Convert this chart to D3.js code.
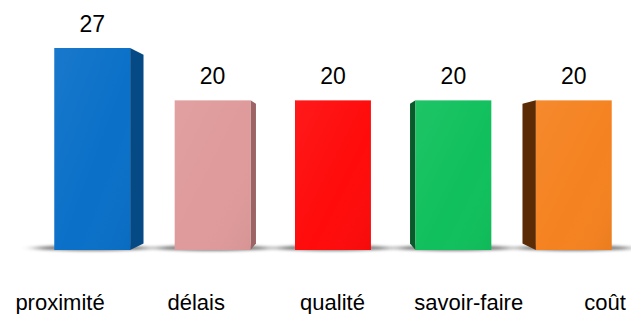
<!DOCTYPE html>
<html>
<head>
<meta charset="utf-8">
<script src="https://cdn.jsdelivr.net/npm/d3@7"></script>
<style>
  body { margin: 0; background: #fff; }
  text { font-family: "Liberation Sans", Arial, sans-serif; fill: #000; }
</style>
</head>
<body>
<div id="chart"></div>
<script>
// Barres 3D

const WIDTH = 631
const HEIGHT = 314

const categories = ["proximité", "délais", "qualité", "savoir-faire", "coût"]
const values = [27, 20, 20, 20, 20]
const frontColors = ["#0a70c8", "#df9a9b", "#ff0b0b", "#10c05c", "#f58220"]
const sideColors = ["#054a85", "#9c6465", "#b00000", "#095a2b", "#5a2b05"]

const data = categories.map((c, i) => ({ cat: c, value: values[i], front: frontColors[i], side: sideColors[i] }))

const svg = d3.select("#chart")
  .append("svg")
  .attr("width", WIDTH)
  .attr("height", HEIGHT)

const x = d3.scaleBand()
  .domain(categories)
  .range([32, 634])
  .paddingInner(0.37)
  .paddingOuter(0.185)

const y = d3.scaleLinear()
  .domain([0, 27])
  .range([250, 48])

// labels sit on a plane closer to the eye, so they spread out more
const xLabel = d3.scalePoint()
  .domain(categories)
  .range([60, 605])

const VP = { x: 333, y: 150 }
const DEPTH = 0.066

const defs = svg.append("defs")

const shine = defs.append("linearGradient")
  .attr("id", "shine")
  .attr("x1", 0).attr("y1", 0).attr("x2", 1).attr("y2", 1)
shine.append("stop").attr("offset", "0%").attr("stop-color", "#fff").attr("stop-opacity", 0.06)
shine.append("stop").attr("offset", "60%").attr("stop-color", "#fff").attr("stop-opacity", 0)
shine.append("stop").attr("offset", "100%").attr("stop-color", "#000").attr("stop-opacity", 0.04)

defs.append("filter")
  .attr("id", "blur")
  .attr("x", "-50%").attr("y", "-200%").attr("width", "200%").attr("height", "500%")
  .append("feGaussianBlur")
  .attr("stdDeviation", "7 1.5")

const toVP = (px, py) => [px + DEPTH * (VP.x - px), py + DEPTH * (VP.y - py)]

const bars = svg.selectAll("g.bar")
  .data(data)
  .join("g")
  .attr("class", "bar")

// ombre au sol
bars.append("ellipse")
  .attr("cx", d => x(d.cat) + x.bandwidth() / 2)
  .attr("cy", y(0) - 2)
  .attr("rx", x.bandwidth() / 2 + 20)
  .attr("ry", 3)
  .attr("fill", "#555")
  .attr("opacity", 0.75)
  .attr("filter", "url(#blur)")

// face latérale
bars.append("path")
  .attr("fill", d => d.side)
  .attr("d", d => {
    const cx = x(d.cat) + x.bandwidth() / 2
    const edge = cx < VP.x ? x(d.cat) + x.bandwidth() : x(d.cat)
    const top = y(d.value)
    const bot = y(0)
    const a = toVP(edge, top)
    const b = toVP(edge, bot)
    return `M${edge},${top}L${a[0]},${a[1]}L${b[0]},${b[1]}L${edge},${bot}Z`
  })

// face avant
bars.append("rect")
  .attr("x", d => x(d.cat))
  .attr("y", d => y(d.value))
  .attr("width", x.bandwidth())
  .attr("height", d => y(0) - y(d.value))
  .attr("fill", d => d.front)

bars.append("rect")
  .attr("x", d => x(d.cat))
  .attr("y", d => y(d.value))
  .attr("width", x.bandwidth())
  .attr("height", d => y(0) - y(d.value))
  .attr("fill", "url(#shine)")

// valeurs
bars.append("text")
  .text(d => d.value)
  .attr("x", d => x(d.cat) + x.bandwidth() / 2)
  .attr("y", d => y(d.value) - 16)
  .attr("text-anchor", "middle")
  .attr("font-size", 23)

// catégories
svg.selectAll("text.cat")
  .data(categories)
  .join("text")
  .attr("class", "cat")
  .text(d => d)
  .attr("x", d => xLabel(d))
  .attr("y", 310)
  .attr("text-anchor", "middle")
  .attr("font-size", 22)
</script>
</body>
</html>
